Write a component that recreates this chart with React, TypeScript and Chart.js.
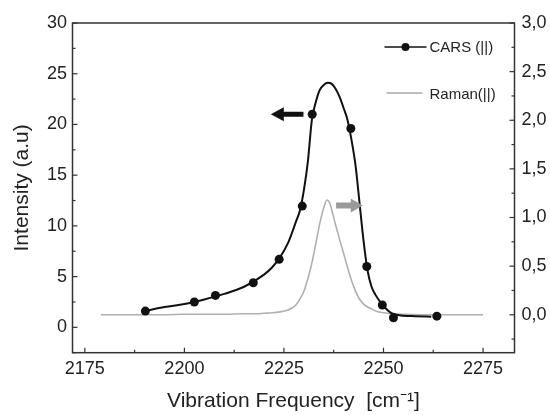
import React, { useEffect, useRef } from "react";
import { Chart, registerables } from "chart.js";

Chart.register(...registerables);

// CARS (||) measured points
const carsX = [2190.2, 2202.5, 2207.8, 2217.3, 2223.8, 2229.6, 2232.1, 2241.8, 2245.8, 2249.7, 2252.5, 2263.4];
const carsY = [1.6, 2.5, 3.15, 4.4, 6.7, 11.95, 21.0, 19.6, 6.0, 2.2, 0.95, 1.1];

// CARS fitted curve
const fitX = [2190, 2195, 2200, 2205, 2210, 2215, 2220, 2222, 2224, 2226, 2227, 2228, 2229, 2230, 2231, 2232, 2233, 2234, 2235, 2236, 2237, 2238, 2239, 2240, 2241, 2242, 2243, 2244, 2245, 2246, 2247, 2248, 2249, 2250, 2252, 2255, 2258, 2262];
const fitY = [1.6, 2.0, 2.3, 2.75, 3.3, 4.0, 5.2, 5.9, 6.9, 8.3, 9.3, 10.4, 11.5, 13.5, 16.3, 20.4, 22.2, 23.4, 23.9, 24.1, 24.0, 23.5, 22.7, 21.6, 20.4, 18.4, 15.9, 12.2, 8.5, 5.6, 4.0, 3.2, 2.6, 2.1, 1.4, 1.15, 1.1, 1.05];

// Raman (||) spectrum (right axis)
const ramanX = [2179, 2185, 2190, 2195, 2200, 2205, 2210, 2215, 2218, 2220, 2222, 2224, 2226, 2227, 2228, 2229, 2230, 2231, 2232, 2233, 2234, 2235, 2235.8, 2236.5, 2237, 2238, 2239, 2240, 2241, 2242, 2243, 2244, 2245, 2246, 2247, 2248, 2250, 2252, 2255, 2260, 2265, 2270, 2275];
const ramanY = [0, 0, 0, 0, 0.005, 0.005, 0.005, 0.01, 0.01, 0.015, 0.02, 0.03, 0.05, 0.07, 0.1, 0.16, 0.24, 0.37, 0.53, 0.73, 0.94, 1.1, 1.18, 1.15, 1.08, 0.92, 0.77, 0.63, 0.48, 0.35, 0.24, 0.16, 0.11, 0.08, 0.06, 0.04, 0.02, 0.01, 0.005, 0, 0, 0, 0];

// Tick values
const xTicks = [2175, 2200, 2225, 2250, 2275];
const yLeftTicks = [0, 5, 10, 15, 20, 25, 30];
const yRightTicks = [0, 0.5, 1.0, 1.5, 2.0, 2.5, 3.0];

// Legend labels
const legendLabels = ["CARS (||)", "Raman(||)"];

// Arrow annotations (data coordinates on left axis): [tail x, tip x, y]
const blackArrow = [2229.9, 2221.7, 21.0];
const grayArrow = [2238.1, 2244.8, 12.0];

const FONT = "'Liberation Sans', Arial, Helvetica, sans-serif";
const TEXT = "#222";

function minorsOf(ticks: number[]) {
  const out: number[] = [];
  for (let i = 0; i < ticks.length - 1; i++) out.push((ticks[i] + ticks[i + 1]) / 2);
  const step = ticks[1] - ticks[0];
  out.push(ticks[0] - step / 2);
  out.push(ticks[ticks.length - 1] + step / 2);
  return out;
}

const decorPlugin = {
  id: "decor",
  afterDraw(chart: any) {
    const ctx = chart.ctx;
    const a = chart.chartArea;
    const sx = chart.scales.x;
    const sy = chart.scales.y;
    const sy1 = chart.scales.y1;
    ctx.save();
    // frame
    ctx.strokeStyle = "#333";
    ctx.lineWidth = 1.5;
    ctx.strokeRect(a.left, a.top, a.right - a.left, a.bottom - a.top);
    // inward ticks
    ctx.lineWidth = 1.2;
    const inRange = (v: number, p: number, lo: number, hi: number) => p >= lo - 0.5 && p <= hi + 0.5;
    const drawX = (vals: number[], len: number) => {
      vals.forEach((v) => {
        const p = sx.getPixelForValue(v);
        if (!inRange(v, p, a.left, a.right)) return;
        ctx.beginPath();
        ctx.moveTo(p, a.bottom);
        ctx.lineTo(p, a.bottom - len);
        ctx.stroke();
      });
    };
    const drawYL = (vals: number[], len: number) => {
      vals.forEach((v) => {
        const p = sy.getPixelForValue(v);
        if (!inRange(v, p, a.top, a.bottom)) return;
        ctx.beginPath();
        ctx.moveTo(a.left, p);
        ctx.lineTo(a.left + len, p);
        ctx.stroke();
      });
    };
    const drawYR = (vals: number[], len: number) => {
      vals.forEach((v) => {
        const p = sy1.getPixelForValue(v);
        if (!inRange(v, p, a.top, a.bottom)) return;
        ctx.beginPath();
        ctx.moveTo(a.right, p);
        ctx.lineTo(a.right - len, p);
        ctx.stroke();
      });
    };
    drawX(xTicks, 5);
    drawX(minorsOf(xTicks), 3);
    drawYL(yLeftTicks, 5);
    drawYL(minorsOf(yLeftTicks), 3);
    drawYR(yRightTicks, 5);
    drawYR(minorsOf(yRightTicks), 3);

    // arrows
    const arrow = (spec: number[], color: string, shaft: number, headLen: number, headHalf: number) => {
      const x0 = sx.getPixelForValue(spec[0]);
      const x1 = sx.getPixelForValue(spec[1]);
      const y = sy.getPixelForValue(spec[2]);
      const dir = x1 > x0 ? 1 : -1;
      const hb = x1 - dir * headLen;
      ctx.fillStyle = color;
      ctx.beginPath();
      ctx.moveTo(x0, y - shaft / 2);
      ctx.lineTo(hb, y - shaft / 2);
      ctx.lineTo(hb, y - headHalf);
      ctx.lineTo(x1, y);
      ctx.lineTo(hb, y + headHalf);
      ctx.lineTo(hb, y + shaft / 2);
      ctx.lineTo(x0, y + shaft / 2);
      ctx.closePath();
      ctx.fill();
    };
    arrow(blackArrow, "#111", 5, 13, 7);
    arrow(grayArrow, "#9a9a9a", 6, 12, 7);

    // legend
    const lx0 = a.right - 130;
    const lx1 = a.right - 88;
    const tx = a.right - 85;
    const ly0 = a.top + 24;
    const ly1 = a.top + 70;
    ctx.strokeStyle = "#111";
    ctx.lineWidth = 1.6;
    ctx.beginPath();
    ctx.moveTo(lx0, ly0);
    ctx.lineTo(lx1, ly0);
    ctx.stroke();
    ctx.fillStyle = "#111";
    ctx.beginPath();
    ctx.arc((lx0 + lx1) / 2, ly0, 4, 0, Math.PI * 2);
    ctx.fill();
    ctx.strokeStyle = "#aaa";
    ctx.lineWidth = 1.4;
    ctx.beginPath();
    ctx.moveTo(lx0 + 2, ly1);
    ctx.lineTo(lx1 - 4, ly1);
    ctx.stroke();
    ctx.fillStyle = TEXT;
    ctx.font = `15px ${FONT}`;
    ctx.textAlign = "left";
    ctx.textBaseline = "middle";
    ctx.fillText(legendLabels[0], tx, ly0 + 1);
    ctx.fillText(legendLabels[1], tx, ly1 + 2);
    ctx.restore();
  },
};

export default function App() {
  const ref = useRef<HTMLCanvasElement | null>(null);
  useEffect(() => {
    if (!ref.current) return;
    const chart = new Chart(ref.current, {
      type: "scatter",
      data: {
        datasets: [
          {
            label: "CARS fit",
            data: fitX.map((x, i) => ({ x, y: fitY[i] })),
            showLine: true,
            borderColor: "#111",
            backgroundColor: "#111",
            borderWidth: 2,
            pointRadius: 0,
            cubicInterpolationMode: "monotone",
            yAxisID: "y",
            order: 2,
          },
          {
            label: legendLabels[0],
            data: carsX.map((x, i) => ({ x, y: carsY[i] })),
            showLine: false,
            borderColor: "#111",
            backgroundColor: "#111",
            pointRadius: 4.5,
            pointBorderWidth: 0,
            yAxisID: "y",
            order: 1,
          },
          {
            label: legendLabels[1],
            data: ramanX.map((x, i) => ({ x, y: ramanY[i] })),
            showLine: true,
            borderColor: "#b0b0b0",
            backgroundColor: "#b0b0b0",
            borderWidth: 1.6,
            pointRadius: 0,
            cubicInterpolationMode: "monotone",
            yAxisID: "y1",
            order: 3,
          },
        ],
      },
      options: {
        animation: false,
        responsive: false,
        maintainAspectRatio: false,
        events: [],
        layout: { padding: { top: 23, left: 0, right: 0, bottom: 0 } },
        plugins: { legend: { display: false }, tooltip: { enabled: false } },
        scales: {
          x: {
            type: "linear",
            position: "bottom",
            min: 2171.9,
            max: 2282.9,
            grid: { display: false, drawTicks: false },
            border: { display: false },
            afterBuildTicks: (s: any) => {
              s.ticks = xTicks.map((v) => ({ value: v }));
            },
            afterFit: (s: any) => {
              s.height = 62.3;
            },
            ticks: {
              padding: 6,
              color: TEXT,
              font: { family: FONT, size: 18 },
              callback: (v: any) => String(v),
            },
            title: {
              display: true,
              text: "Vibration Frequency  [cm\u207B\u00B9]",
              color: TEXT,
              font: { family: FONT, size: 21 },
              padding: { top: 0, bottom: 1 },
            },
          },
          y: {
            type: "linear",
            position: "left",
            min: -2.5,
            max: 30,
            grid: { display: false, drawTicks: false },
            border: { display: false },
            afterBuildTicks: (s: any) => {
              s.ticks = yLeftTicks.map((v) => ({ value: v }));
            },
            afterFit: (s: any) => {
              s.width = 72.5;
            },
            ticks: {
              padding: 5.5,
              color: TEXT,
              font: { family: FONT, size: 18 },
              callback: (v: any) => String(v),
            },
            title: {
              display: true,
              text: "Intensity (a.u)",
              color: TEXT,
              font: { family: FONT, size: 21 },
              padding: { top: 10, bottom: 0 },
            },
          },
          y1: {
            type: "linear",
            position: "right",
            min: -0.39,
            max: 3.0,
            grid: { display: false, drawTicks: false },
            border: { display: false },
            afterBuildTicks: (s: any) => {
              s.ticks = yRightTicks.map((v) => ({ value: v }));
            },
            afterFit: (s: any) => {
              s.width = 35.5;
            },
            ticks: {
              padding: 7,
              color: TEXT,
              font: { family: FONT, size: 18 },
              callback: (v: any) => Number(v).toFixed(1).replace(".", ","),
            },
          },
        },
      },
      plugins: [decorPlugin],
    } as any);
    return () => chart.destroy();
  }, []);
  return (
    <div style={{ position: "absolute", left: 0, top: 0, width: 550, height: 415, background: "#fff" }}>
      <canvas ref={ref} width={550} height={415} style={{ width: 550, height: 415, display: "block" }} />
    </div>
  );
}
